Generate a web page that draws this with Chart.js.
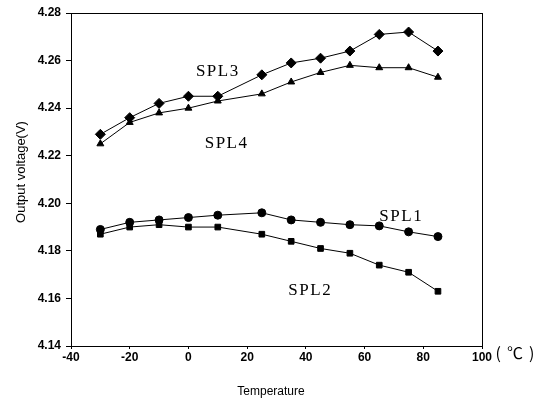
<!DOCTYPE html>
<html>
<head>
<meta charset="utf-8">
<script src="https://cdn.jsdelivr.net/npm/chart.js@4/dist/chart.umd.min.js"></script>
<style>
  body { margin: 0; background: #fff; }
  #c { display: block; }
</style>
</head>
<body>
<canvas id="c" width="540" height="403"></canvas>
<script>
// temperatures (C)
const temps = [-30, -20, -10, 0, 10, 25, 35, 45, 55, 65, 75, 85];
const spl1 = [4.189, 4.192, 4.193, 4.194, 4.195, 4.196, 4.193, 4.192, 4.191, 4.1905, 4.188, 4.186];
const spl2 = [4.187, 4.190, 4.191, 4.190, 4.190, 4.187, 4.184, 4.181, 4.179, 4.174, 4.171, 4.163];
const spl3 = [4.229, 4.236, 4.242, 4.245, 4.245, 4.254, 4.259, 4.261, 4.264, 4.271, 4.272, 4.264];
const spl4 = [4.225, 4.234, 4.238, 4.240, 4.243, 4.246, 4.251, 4.255, 4.258, 4.257, 4.257, 4.253];

const seriesNames = ["SPL1", "SPL2", "SPL3", "SPL4"];
const seriesStyles = ["circle", "rect", "rectRot", "triangle"];
// label anchor points in data units
const labelX = [72.5, 41.5, 10, 13];
const labelY = [4.1945, 4.1635, 4.2555, 4.225];

function pts(vals) {
  return temps.map((t, i) => ({ x: t, y: vals[i] }));
}

const allVals = [spl1, spl2, spl3, spl4];
const datasets = allVals.map((v, i) => ({
  label: seriesNames[i],
  data: pts(v),
  borderColor: "#000",
  backgroundColor: "#000",
  borderWidth: 1,
  pointStyle: seriesStyles[i],
  pointRadius: seriesStyles[i] === "rectRot" ? 5 : 4,
  pointBorderWidth: 1,
  tension: 0
}));

const extras = {
  id: "extras",
  afterDraw(chart) {
    const ctx = chart.ctx;
    const a = chart.chartArea;
    const xs = chart.scales.x, ys = chart.scales.y;
    ctx.save();
    ctx.strokeStyle = "#000";
    ctx.lineWidth = 1;
    ctx.strokeRect(a.left + 0.5, a.top + 0.5, a.right - a.left, a.bottom - a.top);

    ctx.fillStyle = "#000";
    ctx.font = "17px 'Liberation Serif', 'Times New Roman', serif";
    ctx.letterSpacing = "1.5px";
    ctx.textAlign = "center";
    ctx.textBaseline = "middle";
    seriesNames.forEach((n, i) => {
      ctx.fillText(n, xs.getPixelForValue(labelX[i]), ys.getPixelForValue(labelY[i]));
    });
    ctx.letterSpacing = "0px";

    ctx.font = "12px 'Liberation Sans', Arial, sans-serif";
    ctx.fillText("Temperature", 271, 392);
    ctx.font = "16px 'Noto Sans CJK SC', serif";
    ctx.letterSpacing = "6px";
    ctx.fillText("(\u2103)", 518, 353);
    ctx.letterSpacing = "0px";

    ctx.translate(21, 172);
    ctx.rotate(-Math.PI / 2);
    ctx.font = "13px 'Liberation Sans', Arial, sans-serif";
    ctx.fillText("Output voltage(V)", 0, 0);
    ctx.restore();
  }
};

new Chart(document.getElementById("c"), {
  type: "line",
  data: { datasets: datasets },
  options: {
    responsive: false,
    animation: false,
    layout: { padding: { left: 0, top: 13, right: 58, bottom: 0 } },
    plugins: { legend: { display: false }, tooltip: { enabled: false } },
    scales: {
      x: {
        type: "linear",
        min: -40, max: 100,
        ticks: { stepSize: 20, color: "#000", font: { family: "'Liberation Sans', Arial", size: 12, weight: "bold" }, padding: 1 },
        grid: { drawOnChartArea: false, color: "#000", tickLength: 3 },
        border: { color: "#000" },
        afterFit(s) { s.height = 57; }
      },
      y: {
        min: 4.14, max: 4.28,
        ticks: { stepSize: 0.02, color: "#000", font: { family: "'Liberation Sans', Arial", size: 12, weight: "bold" }, padding: 5,
          callback: v => v.toFixed(2) },
        grid: { drawOnChartArea: false, color: "#000", tickLength: 5 },
        border: { color: "#000" },
        afterFit(s) { s.width = 71; }
      }
    }
  },
  plugins: [extras]
});
</script>
</body>
</html>
